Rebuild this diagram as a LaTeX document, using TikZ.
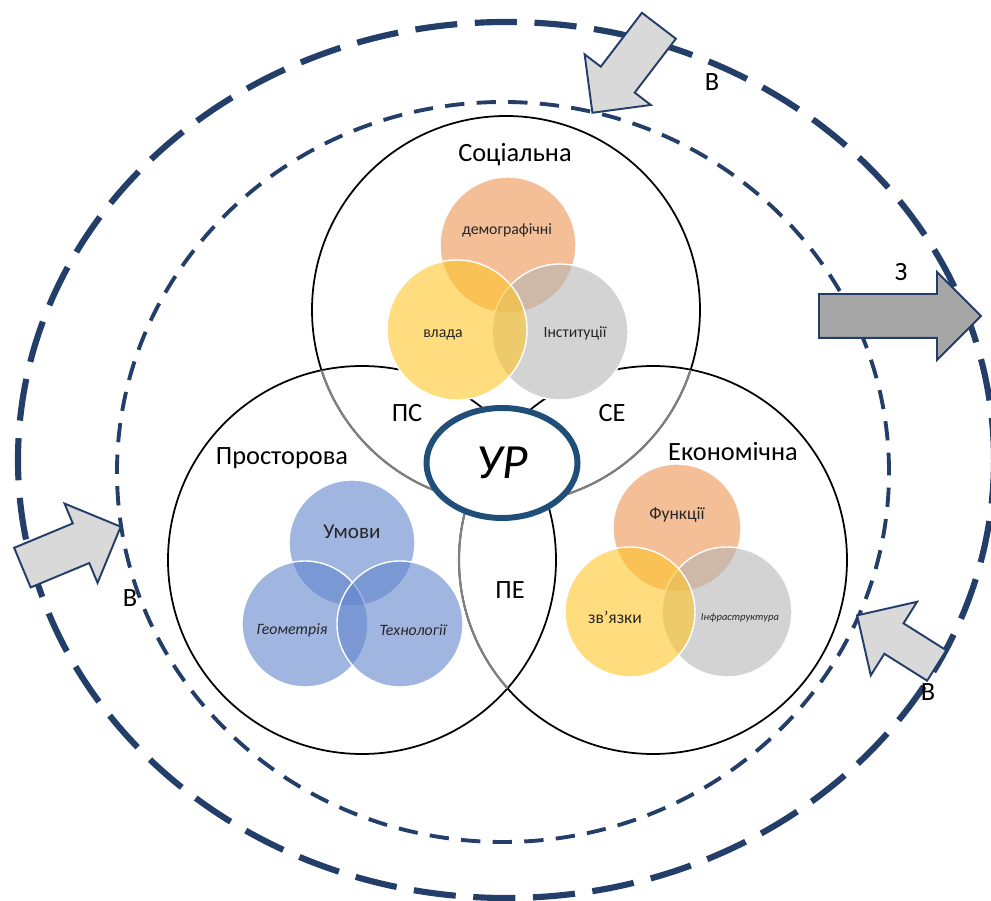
\documentclass[tikz,border=0pt]{standalone}
\usepackage{fontspec}
\setmainfont{Carlito}
\usetikzlibrary{shapes.geometric,shapes.arrows}

\definecolor{navy}{RGB}{35,62,105}
\definecolor{urblue}{RGB}{31,78,121}
\definecolor{peach}{RGB}{238,147,83}
\definecolor{sun}{RGB}{255,197,40}
\definecolor{ash}{RGB}{182,182,182}
\definecolor{sky}{RGB}{97,133,203}
\definecolor{arrlight}{RGB}{217,217,217}
\definecolor{arrdark}{RGB}{166,166,166}
\definecolor{ink}{RGB}{38,38,38}

\tikzset{
  outerring/.style={ellipse, draw=navy, line width=3.5pt, dash pattern=on 24pt off 10pt, minimum width=195.2mm, minimum height=175.2mm, inner sep=0pt},
  innerring/.style={ellipse, draw=navy, line width=2.2pt, dash pattern=on 11pt off 7pt, minimum width=154.4mm, minimum height=148mm, inner sep=0pt},
  sphere/.style={circle, draw, line width=1pt, minimum size=77.6mm, inner sep=0pt},
  arcgray/.style={draw=gray, line width=1.2pt},
  petal/.style={circle, draw=white, line width=0.8pt, fill opacity=0.6, inner sep=0pt},
  biglab/.style={font=\fontsize{15}{18}\selectfont},
  smalllab/.style={text=ink, font=\fontsize{9}{11}\selectfont},
  blockarr/.style={single arrow, draw=navy, line width=1.1pt, fill=arrlight, inner xsep=0pt, single arrow head indent=0pt, anchor=tail}
}

\begin{document}
\begin{tikzpicture}[x=0.2mm, y=-0.2mm]
\useasboundingbox (0,0) rectangle (991,901);

% dashed rings
\node[outerring] (outR) at (506,460) {};
\node[innerring] (innR) at (503,472) {};

% three big circles
\node[sphere] (Soc) at (506,310) {};
\node[sphere] (Pro) at (362,560) {};
\node[sphere] (Eko) at (653,560) {};

% grey parts of the circles
\begin{scope}
  \clip (Pro.center) circle[radius=38.8mm];
  \draw[arcgray] (Soc.center) circle[radius=38.8mm];
  \draw[arcgray] (Eko.center) circle[radius=38.8mm];
\end{scope}
\begin{scope}
  \clip (Eko.center) circle[radius=38.8mm];
  \draw[arcgray] (Soc.center) circle[radius=38.8mm];
\end{scope}

% white ground under the small circles
\foreach \x/\y/\r in {508/245/68, 560/332/68, 457/330/70, 352/543/63, 305/624/63, 400/624/63, 677/528/64, 727/612/65, 630/612/65}
  \fill[white] (\x,\y) circle[radius=\r*0.2mm];

% social
\node[petal, fill=peach, minimum size=27.2mm] (dem) at (508,245) {};
\node[petal, fill=ash, minimum size=27.2mm] (inst) at (560,332) {};
\node[petal, fill=sun, minimum size=28mm] (vlada) at (457,330) {};
% spatial
\node[petal, fill=sky, minimum size=25.2mm] (umovy) at (352,543) {};
\node[petal, fill=sky, minimum size=25.2mm] (geom) at (305,624) {};
\node[petal, fill=sky, minimum size=25.2mm] (tech) at (400,624) {};
% economic
\node[petal, fill=peach, minimum size=25.6mm] (funk) at (677,528) {};
\node[petal, fill=ash, minimum size=26mm] (infra) at (727,612) {};
\node[petal, fill=sun, minimum size=26mm] (zvyaz) at (630,612) {};

% texts in the small circles
\node[smalllab] (demT) at (507,230) {демографічні};
\node[smalllab] (vladaT) at (443,335) {влада};
\node[smalllab] (instT) at (575,333) {Інституції};
\node[smalllab, font=\fontsize{12}{14}\selectfont] (umovyT) at (352,532) {Умови};
\node[smalllab, font=\itshape\fontsize{9}{11}\selectfont] (geomT) at (292,630) {Геометрія};
\node[smalllab, font=\itshape\fontsize{9}{11}\selectfont] (techT) at (413,630) {Технології};
\node[smalllab, font=\fontsize{10}{12}\selectfont] (funkT) at (677,515) {Функції};
\node[smalllab, font=\fontsize{10}{12}\selectfont] (zvyazT) at (615,617) {зв’язки};
\node[smalllab, font=\itshape\fontsize{6}{7}\selectfont] (infraT) at (740,618) {Інфраструктура};

% centre
\node[ellipse, draw=urblue, line width=3.4pt, fill=white, minimum width=30.2mm, minimum height=22mm, font=\itshape\fontsize{28}{32}\selectfont] (UR) at (502,463) {УР};

% circle names
\node[biglab] (SocT) at (515,155) {Соціальна};
\node[biglab] (ProT) at (282,458) {Просторова};
\node[biglab] (EkoT) at (733,452) {Економічна};
\node[biglab] (PS) at (407,413) {ПС};
\node[biglab] (SE) at (612,413) {СЕ};
\node[biglab] (PE) at (510,590) {ПЕ};

% block arrows
\node[blockarr, rotate=232.6, minimum height=21.9mm, inner ysep=4.08mm, single arrow head extend=4.06mm] (arrTop) at (659.5,25) {};
\node[blockarr, fill=arrdark, rotate=0, minimum height=32.4mm, inner ysep=4.2mm, single arrow head extend=4.4mm] (arrZ) at (818,316) {};
\node[blockarr, rotate=22.6, minimum height=21.3mm, inner ysep=4.1mm, single arrow head extend=4.3mm] (arrLeft) at (21.5,568) {};
\node[blockarr, rotate=147.8, minimum height=18.8mm, inner ysep=3.4mm, single arrow head extend=5.1mm] (arrBot) at (937.5,666) {};

% arrow letters
\node[biglab] (vTop) at (712,82) {В};
\node[biglab] (zRight) at (901,272) {З};
\node[biglab] (vLeft) at (130,598) {В};
\node[biglab] (vBot) at (928,692) {В};
\end{tikzpicture}
\end{document}
